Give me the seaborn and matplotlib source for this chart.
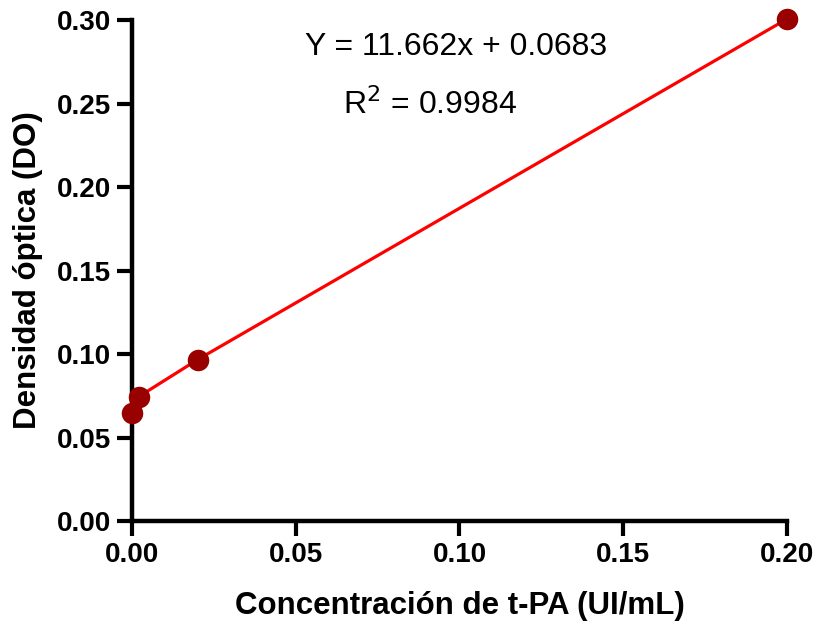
import matplotlib
matplotlib.use("Agg")
import matplotlib.pyplot as plt
import seaborn as sns
import pandas as pd

conc = [0.0, 0.002, 0.02, 0.2]
do_vals = [0.0648, 0.0744, 0.0966, 0.3006]
x_ticks = [0.00, 0.05, 0.10, 0.15, 0.20]
y_ticks = [0.00, 0.05, 0.10, 0.15, 0.20, 0.25, 0.30]

sns.set_style("ticks")
plt.rcParams['font.family'] = ['Liberation Sans', 'DejaVu Sans']
plt.rcParams['text.color'] = 'black'
plt.rcParams['axes.labelcolor'] = 'black'
plt.rcParams['xtick.color'] = 'black'
plt.rcParams['ytick.color'] = 'black'

df = pd.DataFrame({"x": conc, "y": do_vals})

fig = plt.figure(figsize=(8.15, 6.29), dpi=100)
ax = fig.add_axes([0.162, 0.1717, 0.8036, 0.7965])

sns.lineplot(data=df, x="x", y="y", ax=ax, color="#ff0000", linewidth=2.3, zorder=2)
sns.scatterplot(data=df, x="x", y="y", ax=ax, color="#990000", s=240, edgecolor="#990000",
                linewidth=0, zorder=3, clip_on=False)

ax.set_xlim(0, 0.2)
ax.set_ylim(0, 0.30)
ax.set_xticks(x_ticks)
ax.set_yticks(y_ticks)
ax.set_xticklabels([f"{v:.2f}" for v in x_ticks], fontsize=20, fontweight="bold")
ax.set_yticklabels([f"{v:.2f}" for v in y_ticks], fontsize=20, fontweight="bold")
ax.tick_params(axis="both", width=3, length=11, color="black", labelcolor="black", pad=4)

for s in ["top", "right"]:
    ax.spines[s].set_visible(False)
for s in ["left", "bottom"]:
    ax.spines[s].set_linewidth(3.2)
    ax.spines[s].set_color("black")

ax.set_xlabel("Concentración de t-PA (UI/mL)", fontsize=22.5, fontweight="bold", labelpad=17, color="black")
ax.set_ylabel("Densidad óptica (DO)", fontsize=22.5, fontweight="bold", labelpad=10, color="black")

ax.text(0.0529, 0.2838, "Y = 11.662x + 0.0683", fontsize=23, va="center", ha="left", color="black")
ax.text(0.0645, 0.2496, "R$^2$ = 0.9984", fontsize=23, va="center", ha="left", color="black")

fig.savefig("out.png", dpi=100)
